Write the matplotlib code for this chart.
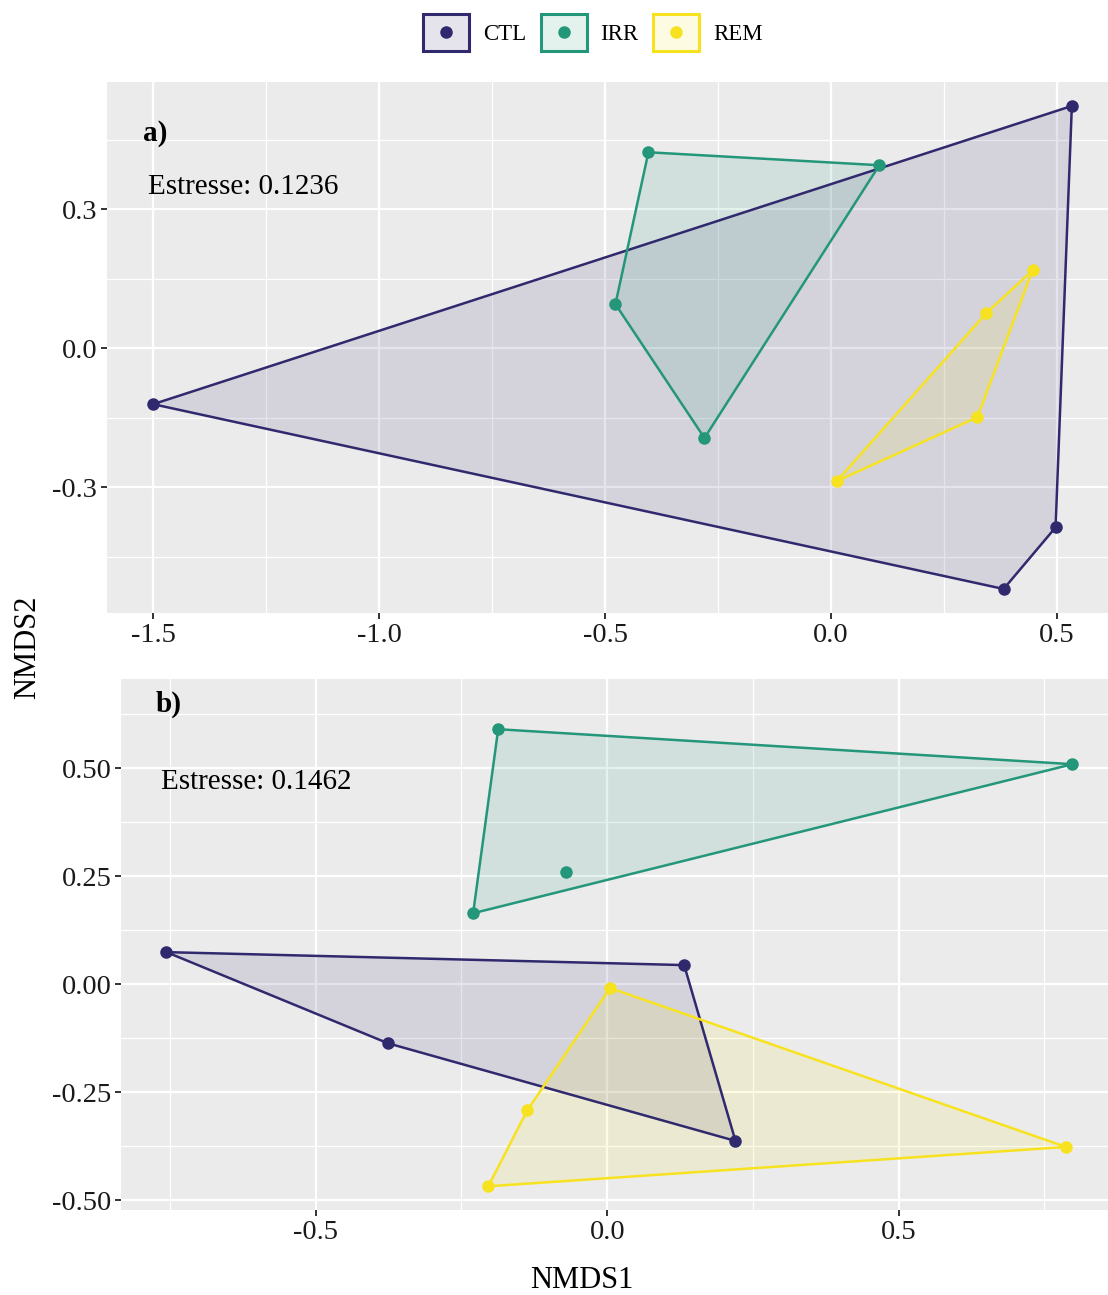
import numpy as np
import matplotlib.pyplot as plt
from matplotlib.patches import Patch
from matplotlib.lines import Line2D
from matplotlib.legend_handler import HandlerTuple, HandlerBase

plt.rcParams['font.family'] = ['Liberation Serif', 'DejaVu Serif']
plt.rcParams['axes.unicode_minus'] = False

groups = ['CTL', 'IRR', 'REM']
colors = ['#30296e', '#24967a', '#f7e220']

# panel a) NMDS scores
a_x = {'CTL': [-1.500, 0.533, 0.497, 0.382],
       'IRR': [-0.404, 0.107, -0.477, -0.280],
       'REM': [0.446, 0.344, 0.324, 0.013]}
a_y = {'CTL': [-0.121, 0.523, -0.387, -0.520],
       'IRR': [0.423, 0.395, 0.095, -0.194],
       'REM': [0.168, 0.076, -0.149, -0.287]}
a_stress = 'Estresse: 0.1236'

# panel b) NMDS scores
b_x = {'CTL': [-0.756, 0.132, -0.376, 0.220],
       'IRR': [-0.187, 0.798, -0.070, -0.230],
       'REM': [0.005, -0.137, 0.787, -0.204]}
b_y = {'CTL': [0.074, 0.044, -0.137, -0.363],
       'IRR': [0.590, 0.509, 0.259, 0.164],
       'REM': [-0.009, -0.292, -0.377, -0.468]}
b_stress = 'Estresse: 0.1462'


def hull(xs, ys):
    pts = sorted(zip(xs, ys))
    def cross(o, a, b):
        return (a[0]-o[0])*(b[1]-o[1]) - (a[1]-o[1])*(b[0]-o[0])
    lower, upper = [], []
    for p in pts:
        while len(lower) >= 2 and cross(lower[-2], lower[-1], p) <= 0:
            lower.pop()
        lower.append(p)
    for p in reversed(pts):
        while len(upper) >= 2 and cross(upper[-2], upper[-1], p) <= 0:
            upper.pop()
        upper.append(p)
    return np.array(lower[:-1] + upper[:-1])


def panel(ax, xs, ys, xlim, ylim, xmaj, ymaj, xminor, yminor, fmt, tag, tagpos, stress, spos):
    ax.set_facecolor('#ebebeb')
    for s in ax.spines.values():
        s.set_visible(False)
    for g, c in zip(groups, colors):
        h = hull(xs[g], ys[g])
        ax.fill(h[:, 0], h[:, 1], color=c, alpha=0.12, lw=0, zorder=2)
        ax.fill(h[:, 0], h[:, 1], facecolor='none', edgecolor=c, lw=1.8, zorder=3)
        ax.plot(xs[g], ys[g], 'o', color=c, ms=8, zorder=4)
    ax.set_xlim(*xlim)
    ax.set_ylim(*ylim)
    ax.set_xticks(xmaj)
    ax.set_yticks(ymaj)
    ax.set_xticklabels([fmt[0] % v for v in xmaj])
    ax.set_yticklabels([fmt[1] % v for v in ymaj])
    ax.set_xticks(xminor, minor=True)
    ax.set_yticks(yminor, minor=True)
    ax.grid(True, which='major', color='white', lw=1.6, zorder=0)
    ax.grid(True, which='minor', color='white', lw=0.9, zorder=0)
    ax.set_axisbelow(True)
    ax.tick_params(which='major', length=4, width=1.4, color='#333333',
                   labelsize=20.5, labelcolor='#1a1a1a', pad=3)
    ax.tick_params(which='minor', length=0)
    ax.text(tagpos[0], tagpos[1], tag, fontsize=21, fontweight='bold',
            ha='center', va='center')
    ax.text(spos[0], spos[1], stress, fontsize=21, ha='left', va='center')


class Dot:
    def __init__(self, c):
        self.c = c


class DotHandler(HandlerBase):
    def create_artists(self, legend, orig, xdescent, ydescent, width, height, fontsize, trans):
        return [Line2D([width / 2 - xdescent], [height / 2 - ydescent], marker='o',
                       color=orig.c, ls='none', ms=8, transform=trans)]


fig = plt.figure(figsize=(11.08, 12.95), dpi=100)
ax1 = fig.add_axes([0.0966, 0.5266, 0.9034, 0.410])
ax2 = fig.add_axes([0.1092, 0.0656, 0.8908, 0.410])

panel(ax1, a_x, a_y, (-1.602, 0.613), (-0.572, 0.5745),
      [-1.5, -1.0, -0.5, 0.0, 0.5], [-0.3, 0.0, 0.3],
      [-1.25, -0.75, -0.25, 0.25], [-0.45, -0.15, 0.15, 0.45],
      ('%.1f', '%.1f'), 'a)', (-1.496, 0.464), a_stress, (-1.511, 0.348))
panel(ax2, b_x, b_y, (-0.834, 0.859), (-0.523, 0.706),
      [-0.5, 0.0, 0.5], [-0.5, -0.25, 0.0, 0.25, 0.5],
      [-0.75, -0.25, 0.25, 0.75], [-0.375, -0.125, 0.125, 0.375, 0.625],
      ('%.1f', '%.2f'), 'b)', (-0.753, 0.648), b_stress, (-0.765, 0.468))

fig.text(0.025, 0.5, 'NMDS2', rotation=90, fontsize=22, ha='center', va='center')
fig.text(0.525, 0.011, 'NMDS1', fontsize=22, ha='center', va='center')

handles = []
for c in colors:
    handles.append((Patch(facecolor=c, alpha=0.12, edgecolor='none'),
                    Patch(facecolor='none', edgecolor=c, lw=2.2),
                    Dot(c)))
fig.legend(handles, groups, loc='center', bbox_to_anchor=(0.535, 0.975), ncol=3,
           frameon=False, fontsize=16.5, handlelength=2.0, handleheight=2.15,
           handletextpad=0.6, columnspacing=0.65,
           handler_map={tuple: HandlerTuple(ndivide=1, pad=0), Dot: DotHandler()})

fig.savefig('out.png', dpi=100)
